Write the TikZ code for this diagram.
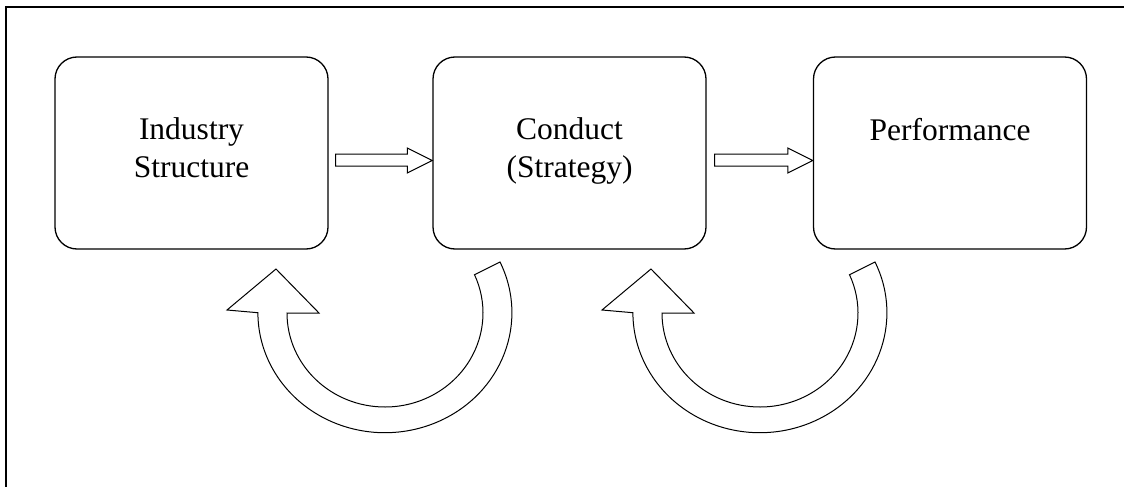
\documentclass[tikz,border=0pt]{standalone}
\usepackage{fontspec}
\setmainfont{Liberation Serif}
\usetikzlibrary{calc}
\begin{document}
\begin{tikzpicture}[x=1pt,y=-1pt,
  box/.style={draw,line width=1.3pt,rounded corners=22pt,minimum width=273pt,minimum height=192pt,inner sep=0pt},
  lbl/.style={anchor=base,align=center,inner sep=0pt,font=\fontsize{31.5}{38}\selectfont},
  blk/.style={draw,line width=1pt,line join=miter,fill=white},
  frame/.style={draw,line width=1.5pt}]
\useasboundingbox (0,0) rectangle (1124,487);
\fill[white] (0,0) rectangle (1124,487);
\draw[frame] (1124,7) -- (6,7) -- (6,487);
% boxes
\node[box] (b1) at (191.5,153) {};
\node[box] (b2) at (569.5,153) {};
\node[box] (b3) at (950,153) {};
% labels (base anchor = baseline of last line)
\node[lbl] (t1) at ([yshift=-24pt]b1.center) {Industry\\Structure};
\node[lbl] (t2) at ([yshift=-24pt]b2.center) {Conduct\\(Strategy)};
\node[lbl] (t3) at ([yshift=13pt]b3.center) {Performance};
% straight block arrows
\draw[blk] ([shift={(7,1)}]b1.east) -- ([shift={(-25,1)}]b2.west) -- ([shift={(-25,-5)}]b2.west)
  -- ([shift={(0,7.5)}]b2.west) -- ([shift={(-25,20)}]b2.west) -- ([shift={(-25,13)}]b2.west)
  -- ([shift={(7,13)}]b1.east) -- cycle;
\draw[blk] ([shift={(8,1)}]b2.east) -- ([shift={(-25,1)}]b3.west) -- ([shift={(-25,-5)}]b3.west)
  -- ([shift={(0,7.5)}]b3.west) -- ([shift={(-25,20)}]b3.west) -- ([shift={(-25,13)}]b3.west)
  -- ([shift={(8,13)}]b2.east) -- cycle;
% curved feedback arrows
\foreach \dx in {0,375}{
\begin{scope}[xshift=\dx pt]
\draw[blk] (276,269) -- (319,313) -- (287,313)
  arc[start angle=180,end angle=-24,x radius=98,y radius=94]
  -- (500,262)
  arc[start angle=-25,end angle=180,x radius=127,y radius=120]
  -- (227,310) -- cycle;
\end{scope}
}
\end{tikzpicture}
\end{document}
